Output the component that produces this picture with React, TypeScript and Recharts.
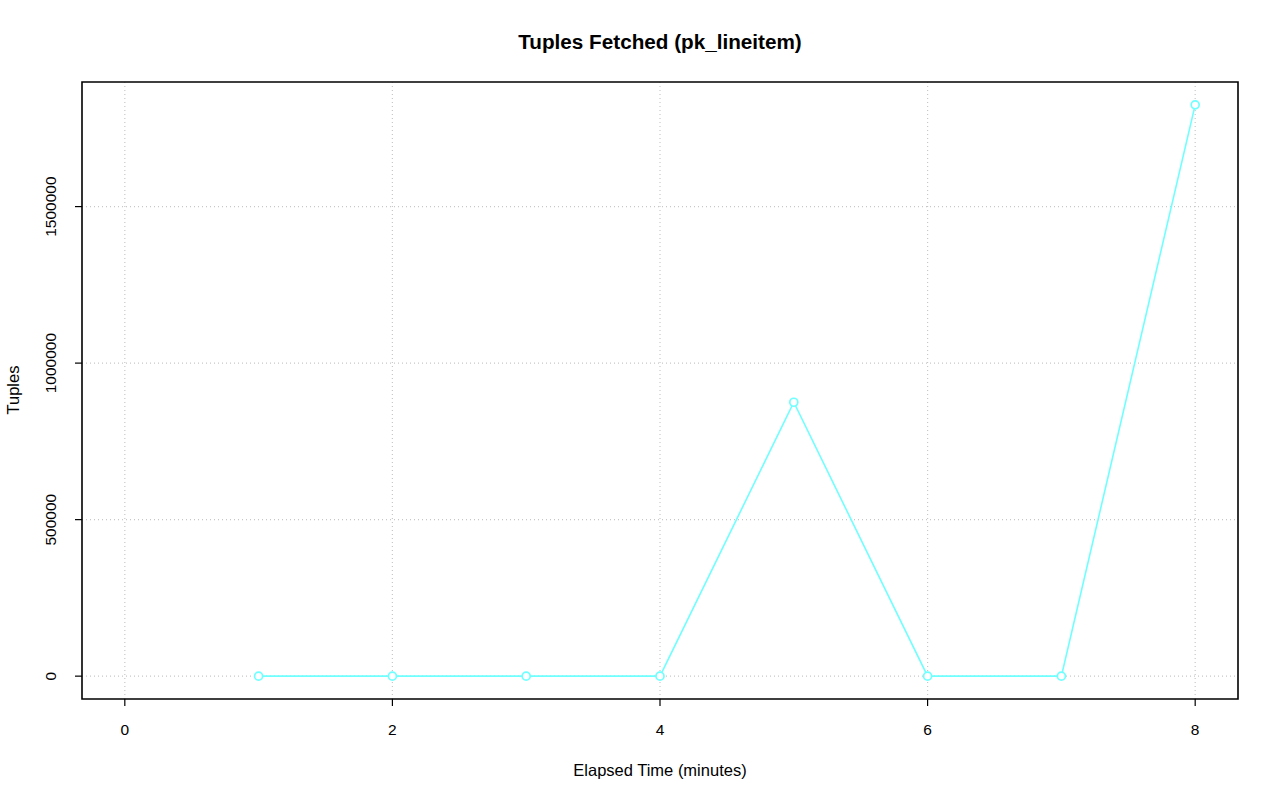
import React from "react";
import { LineChart, Line, XAxis, YAxis, CartesianGrid, ReferenceArea } from "recharts";

const minutes = [1, 2, 3, 4, 5, 6, 7, 8];
const tuples = [0, 0, 0, 0, 875000, 0, 0, 1825000];
const xTicks = [0, 2, 4, 6, 8];
const yTicks = [0, 500000, 1000000, 1500000];
const title = "Tuples Fetched (pk_lineitem)";
const xLabel = "Elapsed Time (minutes)";
const yLabel = "Tuples";

const data = minutes.map((m, i) => ({ minute: m, tuples: tuples[i] }));

const xLo = 0;
const xHi = 8;
const xPad = (xHi - xLo) * 0.04;
const yLo = Math.min(...tuples);
const yHi = Math.max(...tuples);
const yPad = (yHi - yLo) * 0.04;
const xDomain: [number, number] = [xLo - xPad, xHi + xPad];
const yDomain: [number, number] = [yLo - yPad, yHi + yPad];

const FONT = "'Liberation Sans', Arial, Helvetica, sans-serif";
const LINE_COLOR = "#6FFFFF";

const XTick = (props: any) => {
  const { x, y, payload } = props;
  return (
    <text x={x} y={y + 27} textAnchor="middle" fontSize={15.5} fontFamily={FONT} fill="#000">
      {payload.value}
    </text>
  );
};

const YTick = (props: any) => {
  const { x, y, payload } = props;
  const bx = x - 17;
  return (
    <text
      x={bx}
      y={y}
      textAnchor="middle"
      fontSize={15.5}
      fontFamily={FONT}
      fill="#000"
      transform={`rotate(-90, ${bx}, ${y})`}
    >
      {payload.value}
    </text>
  );
};

const Dot = (props: any) => {
  const { cx, cy, index } = props;
  if (cx == null || cy == null) return null;
  return (
    <g key={`d${index}`}>
      <circle cx={cx} cy={cy} r={4} fill="#fff" stroke={LINE_COLOR} strokeWidth={1.7} />
    </g>
  );
};

export default function App() {
  return (
    <div style={{ position: "absolute", left: 0, top: 0, width: 1280, height: 801, background: "#fff" }}>
      <LineChart
        width={1280}
        height={801}
        data={data}
        margin={{ top: 82, right: 42, bottom: 42, left: 22 }}
      >
        <CartesianGrid
          stroke="#C8C8C8"
          strokeDasharray="1 3"
          strokeWidth={1.2}
          verticalValues={xTicks}
          horizontalValues={yTicks}
        />
        <XAxis
          type="number"
          dataKey="minute"
          domain={xDomain}
          ticks={xTicks}
          allowDataOverflow
          height={60}
          axisLine={false}
          tickLine={{ stroke: "#000", strokeWidth: 1.2 }}
          tickSize={7}
          tick={<XTick />}
          interval={0}
        />
        <YAxis
          type="number"
          dataKey="tuples"
          domain={yDomain}
          ticks={yTicks}
          allowDataOverflow
          width={60}
          axisLine={false}
          tickLine={{ stroke: "#000", strokeWidth: 1.2 }}
          tickSize={7}
          tick={<YTick />}
          interval={0}
        />
        <ReferenceArea
          x1={xDomain[0]}
          x2={xDomain[1]}
          y1={yDomain[0]}
          y2={yDomain[1]}
          fill="none"
          fillOpacity={0}
          stroke="#000"
          strokeWidth={1.6}
          ifOverflow="visible"
        />
        <Line
          type="linear"
          dataKey="tuples"
          stroke={LINE_COLOR}
          strokeWidth={1.6}
          dot={<Dot />}
          activeDot={false}
          isAnimationActive={false}
        />
      </LineChart>
      <svg
        width={1280}
        height={801}
        style={{ position: "absolute", left: 0, top: 0, pointerEvents: "none" }}
      >
        <text x={660} y={49} textAnchor="middle" fontSize={20.7} fontWeight="bold" fontFamily={FONT} fill="#000">
          {title}
        </text>
        <text x={660} y={776} textAnchor="middle" fontSize={16.5} fontFamily={FONT} fill="#000">
          {xLabel}
        </text>
        <text
          x={19}
          y={390}
          textAnchor="middle"
          fontSize={16.5}
          fontFamily={FONT}
          fill="#000"
          transform="rotate(-90, 19, 390)"
        >
          {yLabel}
        </text>
      </svg>
    </div>
  );
}
